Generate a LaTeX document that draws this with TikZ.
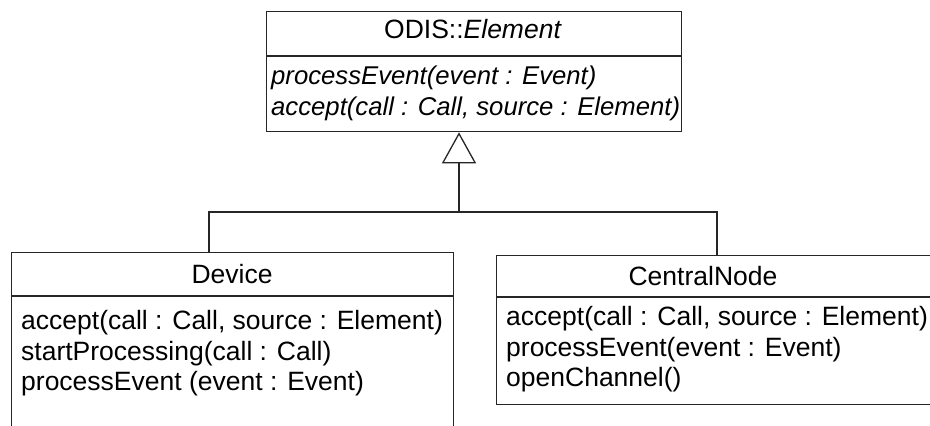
\documentclass[tikz,border=0pt]{standalone}
\usepackage{fontspec}
\setmainfont{Liberation Sans}
\usetikzlibrary{arrows.meta}
\begin{document}
\begin{tikzpicture}[x=1pt,y=-1pt,
  box/.style={draw=black!85, line width=1.3pt, rectangle, anchor=north west, inner sep=0pt},
  rule/.style={draw=black!85, line width=1.3pt},
  txt/.style={anchor=base west, inner sep=0pt, font=\fontsize{26.5}{31}\selectfont},
  itxt/.style={anchor=base west, inner sep=0pt, font=\fontsize{25.7}{31}\selectfont\itshape},
  head/.style={anchor=base, inner sep=0pt, font=\fontsize{26.5}{31}\selectfont},
  conn/.style={draw=black!85, line width=1.3pt}]
\useasboundingbox[fill=white] (0,0) rectangle (930,426);
\clip (0,0) rectangle (930,426);
% boxes
\node[box, minimum width=415pt, minimum height=120pt] (elem) at (266,11) {};
\node[box, minimum width=442pt, minimum height=200pt] (dev) at (11,252) {};
\node[box, minimum width=460pt, minimum height=149pt] (cn) at (496,255) {};
% dividers
\draw[rule] (elem.west |- 0,56) -- (elem.east |- 0,56);
\draw[rule] (dev.west |- 0,296) -- (dev.east |- 0,296);
\draw[rule] (cn.west |- 0,297) -- (cn.east |- 0,297);
% texts
\node[head] (eh) at (473,38) {ODIS::\textit{Element}};
\node[itxt] (e1) at (271,84) {processEvent(event : Event)};
\node[itxt] (e2) at (271,115) {accept(call : Call, source : Element)};
\node[head] (dh) at (232,283) {Device};
\node[txt] (d1) at (21,329) {accept(call : Call, source : Element)};
\node[txt] (d2) at (21,360) {startProcessing(call : Call)};
\node[txt] (d3) at (21,390) {processEvent (event : Event)};
\node[head] (ch) at (703,285) {CentralNode};
\node[txt] (c1) at (506,325) {accept(call : Call, source : Element)};
\node[txt] (c2) at (506,356) {processEvent(event : Event)};
\node[txt] (c3) at (506,386) {openChannel()};
% connectors
\coordinate (j) at (459,212);
\coordinate (dj) at (209,212);
\coordinate (cj) at (717,212);
\draw[conn, -{Triangle[open, width=34pt, length=31pt]}] (j) -- (j |- elem.south);
\draw[conn] (dj |- dev.north) -- (dj) -- (cj) -- (cj |- cn.north);
\end{tikzpicture}
\end{document}
